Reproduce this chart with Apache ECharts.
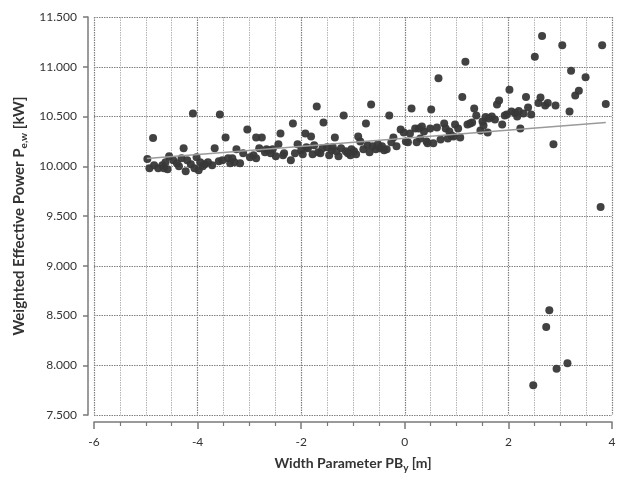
<!DOCTYPE html>
<html>
<head>
<meta charset="utf-8">
<script src="https://cdn.jsdelivr.net/npm/echarts@6/dist/echarts.min.js"></script>
<style>
  html, body { margin: 0; padding: 0; background: #fff; }
  #chart { width: 621px; height: 478px; }
</style>
</head>
<body>
<div id="chart"></div>
<script>
// Width parameter PB_y [m] for each measured run
const widthParam = [
  -4.97, -4.93, -4.86, -4.84, -4.76, -4.68, -4.65, -4.58, -4.55, -4.47,
  -4.40, -4.36, -4.31, -4.27, -4.23, -4.13, -4.09, -4.06, -4.02, -3.98,
  -3.95, -3.86, -3.80, -3.72, -3.67, -3.59, -3.57, -3.52, -3.46, -3.41,
  -3.37, -3.29, -3.25, -3.18, -3.12, -3.04, -2.99, -2.92, -2.87, -2.87,
  -2.81, -2.76, -2.70, -2.67, -2.59, -2.55, -2.49, -2.44, -2.40, -2.35,
  -2.33, -2.20, -2.16, -2.12, -2.07, -2.00, -1.92, -1.90, -1.87, -1.81,
  -1.78, -1.75, -1.70, -1.67, -1.63, -1.59, -1.57, -1.50, -1.46, -1.41,
  -1.35, -1.32, -1.28, -1.23, -1.18, -1.14, -1.05, -1.03, -0.94, -0.90,
  -0.86, -0.80, -0.75, -0.72, -0.68, -0.65, -0.62, -0.56, -0.48, -0.44,
  -0.35, -0.30, -0.22, -0.16, -0.08, -0.02, 0.06, 0.13, 0.20, 0.23,
  0.27, 0.33, 0.37, 0.42, 0.44, 0.49, 0.51, 0.55, 0.62, 0.65,
  0.69, 0.76, 0.79, 0.83, 0.90, 0.94, 0.97, 1.03, 1.07, 1.11,
  1.17, 1.21, 1.26, 1.30, 1.34, 1.38, 1.46, 1.50, 1.52, 1.56,
  1.60, 1.62, 1.68, 1.74, 1.78, 1.82, 1.88, 1.93, 1.97, 2.02,
  2.06, 2.13, 2.17, 2.20, 2.23, 2.29, 2.34, 2.38, 2.44, 2.51,
  2.58, 2.62, 2.65, 2.71, 2.76, 2.87, 2.91, 3.04, 3.18, 3.21,
  3.29, 3.36, 3.49, 3.78, 3.81, 3.88, 2.48, 2.73, 2.79, 2.93,
  3.14, -4.62, -4.20, -3.90, -3.33, -2.63, -1.97, -1.39, -1.10, -0.98,
  -0.52, -0.40, -0.26, 0.02, 0.10, 0.30, 0.86
];

// Weighted effective power P_e,w [kW] for the same runs
const effPower = [
  10.074, 9.98, 10.284, 10.01, 9.98, 10.01, 9.98, 9.97, 10.10, 10.06,
  10.03, 10.00, 10.08, 10.18, 9.95, 10.02, 10.53, 9.98, 10.09, 9.96,
  10.04, 10.02, 10.04, 10.01, 10.18, 10.05, 10.52, 10.06, 10.29, 10.08,
  10.03, 10.04, 10.17, 10.03, 10.13, 10.37, 10.09, 10.11, 10.29, 10.08,
  10.18, 10.29, 10.14, 10.17, 10.13, 10.17, 10.10, 10.22, 10.33, 10.11,
  10.13, 10.06, 10.43, 10.13, 10.22, 10.16, 10.33, 10.19, 10.18, 10.30,
  10.12, 10.21, 10.60, 10.14, 10.13, 10.18, 10.44, 10.19, 10.11, 10.16,
  10.29, 10.15, 10.10, 10.18, 10.51, 10.15, 10.11, 10.17, 10.12, 10.30,
  10.25, 10.17, 10.43, 10.21, 10.14, 10.62, 10.20, 10.17, 10.18, 10.20,
  10.17, 10.51, 10.29, 10.20, 10.37, 10.34, 10.24, 10.58, 10.38, 10.24,
  10.38, 10.40, 10.35, 10.25, 10.23, 10.38, 10.57, 10.23, 10.39, 10.885,
  10.27, 10.43, 10.38, 10.28, 10.31, 10.30, 10.42, 10.38, 10.29, 10.695,
  11.05, 10.42, 10.43, 10.44, 10.58, 10.51, 10.36, 10.45, 10.41, 10.495,
  10.34, 10.48, 10.50, 10.47, 10.62, 10.66, 10.42, 10.51, 10.52, 10.77,
  10.55, 10.535, 10.50, 10.555, 10.38, 10.53, 10.695, 10.59, 10.52, 11.10,
  10.635, 10.69, 11.31, 10.61, 10.635, 10.22, 10.61, 11.215, 10.55, 10.96,
  10.71, 10.76, 10.895, 9.59, 11.215, 10.625, 7.80, 8.385, 8.553, 7.965,
  8.02, 10.04, 10.06, 10.00, 10.08, 10.16, 10.12, 10.19, 10.13, 10.15,
  10.22, 10.16, 10.24, 10.25, 10.33, 10.28, 10.35
];

// Linear trend line end points
const trendX = [-4.98, 3.88];
const trendY = [10.077, 10.44];

const points = widthParam.map((x, i) => [x, effPower[i]]);
const trend = trendX.map((x, i) => [x, trendY[i]]);

const axisColor = '#7a7a7a';
const labelStyle = { color: '#333', fontFamily: 'Lato', fontSize: 12 };
const nameBase = { color: '#333', fontFamily: 'Lato', fontWeight: 'bold', fontSize: 15 };
const subStyle = { fontFamily: 'Lato', fontWeight: 'bold', fontSize: 10, color: '#333', padding: [9, 0, 0, 0] };

const chart = echarts.init(document.getElementById('chart'), null, { renderer: 'canvas' });
chart.setOption({
  animation: false,
  backgroundColor: '#fff',
  grid: { left: 94, right: 9, top: 17, bottom: 62, containLabel: false },
  xAxis: {
    type: 'value',
    min: -6, max: 4, interval: 2,
    offset: 7,
    axisLine: { show: true, onZero: false, lineStyle: { color: axisColor, width: 1.5 } },
    axisTick: { show: true, length: 7, lineStyle: { color: axisColor, width: 1.5 } },
    minorTick: { show: true, splitNumber: 4, length: 4, lineStyle: { color: axisColor, width: 1.2 } },
    axisLabel: Object.assign({ margin: 14 }, labelStyle),
    splitLine: { show: true, lineStyle: { color: '#808080', type: [1.5, 1], width: 1.2 } },
    minorSplitLine: { show: true, lineStyle: { color: '#b5b5b5', type: [1.5, 1], width: 1 } },
    name: 'Width Parameter PB{sub|y} [m]',
    nameLocation: 'middle',
    nameGap: 32,
    nameTextStyle: Object.assign({}, nameBase, { fontSize: 14, rich: { sub: subStyle } })
  },
  yAxis: {
    type: 'value',
    min: 7.5, max: 11.5, interval: 0.5,
    offset: 6,
    axisLine: { show: true, onZero: false, lineStyle: { color: axisColor, width: 1.5 } },
    axisTick: { show: true, length: 5, lineStyle: { color: axisColor, width: 1.5 } },
    axisLabel: Object.assign({ margin: 11, formatter: v => v.toFixed(3) }, labelStyle),
    splitLine: { show: true, lineStyle: { color: '#808080', type: [1.5, 1], width: 1.2 } },
    name: 'Weighted Effective Power P{sub|e,w} [kW]',
    nameLocation: 'middle',
    nameRotate: 90,
    nameGap: 58,
    nameTextStyle: Object.assign({}, nameBase, { rich: { sub: subStyle } })
  },
  series: [
    {
      type: 'scatter',
      data: points,
      symbol: 'circle',
      symbolSize: 8,
      itemStyle: { color: '#383838', opacity: 0.95 },
      z: 2
    },
    {
      type: 'line',
      data: trend,
      showSymbol: false,
      symbol: 'none',
      lineStyle: { color: '#9a9a9a', width: 1.5 },
      z: 3
    }
  ]
});
</script>
</body>
</html>
